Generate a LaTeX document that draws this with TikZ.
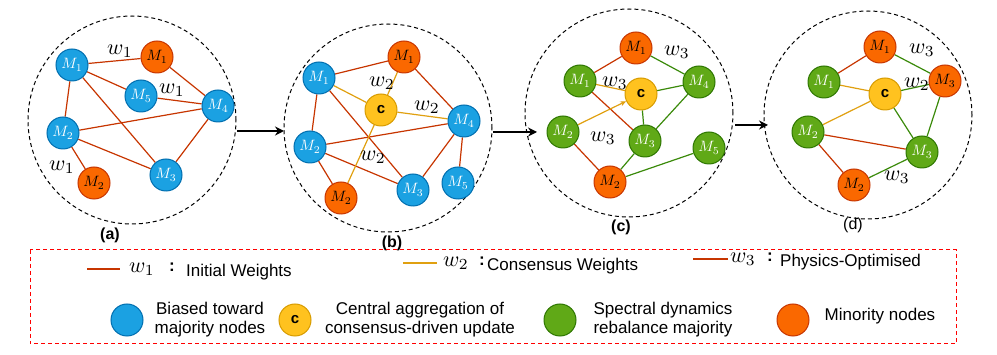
\documentclass[tikz,border=0pt]{standalone}
\usepackage{graphicx}
\usepackage{fontspec}
\setmainfont{Liberation Sans}
\usetikzlibrary{arrows.meta,backgrounds}
\definecolor{nblue}{HTML}{1BA1E2}
\definecolor{nblueD}{HTML}{006EAF}
\definecolor{norange}{HTML}{FA6800}
\definecolor{norangeD}{HTML}{C73500}
\definecolor{ngreen}{HTML}{60A917}
\definecolor{ngreenD}{HTML}{2D7600}
\definecolor{nyellow}{HTML}{FFC21F}
\definecolor{nyellowD}{HTML}{D79B00}
\definecolor{ered}{HTML}{C73500}
\definecolor{eyel}{HTML}{E0A010}
\definecolor{egreen}{HTML}{3A8A0A}
\newcommand\mlab[1]{\scalebox{1.5}{\normalsize$M_{#1}$}}
\newcommand\wlab[1]{\scalebox{2.2}{\normalsize$w_{#1}$}}
\tikzset{
  nd/.style={circle, minimum size=32pt, inner sep=0pt, line width=1pt},
  bn/.style={nd, fill=nblue, draw=nblueD, text=white},
  on/.style={nd, fill=norange, draw=norangeD, text=black},
  gn/.style={nd, fill=ngreen, draw=ngreenD, text=white},
  yn/.style={nd, fill=nyellow, draw=nyellowD, text=black, font=\fontsize{15}{17}\selectfont\bfseries},
  re/.style={draw=ered, line width=1.2pt},
  ye/.style={draw=eyel, line width=1.2pt},
  ge/.style={draw=egreen, line width=1.2pt},
  wl/.style={inner sep=0pt},
  pl/.style={font=\fontsize{16}{18}\selectfont\bfseries},
  ring/.style={circle, draw=black, dashed, line width=1pt, dash pattern=on 4pt off 3pt, minimum size=208pt, inner sep=0pt},
  arr/.style={line width=2.2pt, -{Stealth[length=9pt,width=9pt]}},
  lt/.style={align=center, font=\fontsize{17}{19}\selectfont, inner sep=0pt},
  colon/.style={font=\fontsize{17}{19}\selectfont\bfseries, inner sep=0pt},
  legbox/.style={draw=red, line width=1pt, dash pattern=on 4pt off 3pt}
}
\begin{document}
\begin{tikzpicture}[x=1pt,y=-1pt]
\useasboundingbox (0,0) rectangle (997,355);
% rings
\node[ring] (ca) at (132,120) {};
\node[ring] (cb) at (388,128) {};
\node[ring] (cc) at (629,113) {};
\node[ring] (cd) at (868,115) {};
% ---- (a)
\node[bn] (a1) at (72,65) {\mlab{1}};
\node[on] (a1o) at (157,57) {\mlab{1}};
\node[bn] (a5) at (141,96) {\mlab{5}};
\node[bn] (a4) at (218,106) {\mlab{4}};
\node[bn] (a2) at (63,133) {\mlab{2}};
\node[on] (a2o) at (94,183) {\mlab{2}};
\node[bn] (a3) at (166,175) {\mlab{3}};
\node[wl] (aw1) at (120,51) {\wlab{1}};
\node[wl] (aw2) at (172,90) {\wlab{1}};
\node[wl] (aw3) at (62,167) {\wlab{1}};
\node[pl] (la) at (110,235) {(a)};
% ---- (b)
\node[bn] (b1) at (319,78) {\mlab{1}};
\node[on] (b1o) at (404,57) {\mlab{1}};
\node[yn] (bc) at (381,110) {c};
\node[bn] (b4) at (464,121) {\mlab{4}};
\node[bn] (b2) at (310,147) {\mlab{2}};
\node[bn] (b3) at (413,190) {\mlab{3}};
\node[bn] (b5) at (458,183) {\mlab{5}};
\node[on] (b2o) at (341,198) {\mlab{2}};
\node[wl] (bw1) at (382,83) {\wlab{2}};
\node[wl] (bw2) at (427,107) {\wlab{2}};
\node[wl] (bw3) at (373,157) {\wlab{2}};
\node[pl] (lb) at (392,243) {(b)};
% ---- (c)
\node[on] (c1o) at (636,48) {\mlab{1}};
\node[gn] (c1) at (580,81) {\mlab{1}};
\node[yn] (cx) at (641,94) {c};
\node[gn] (c4) at (699,82) {\mlab{4}};
\node[gn] (c2) at (563,132) {\mlab{2}};
\node[gn] (c3) at (645,141) {\mlab{3}};
\node[gn] (c5) at (709,148) {\mlab{5}};
\node[on] (c2o) at (610,182) {\mlab{2}};
\node[wl] (cw1) at (677,52) {\wlab{3}};
\node[wl] (cw2) at (615,83) {\wlab{3}};
\node[wl] (cw3) at (603,138) {\wlab{3}};
\node[pl] (lc) at (621,227) {(c)};
% ---- (d)
\node[on] (d1o) at (880,47) {\mlab{1}};
\node[gn] (d1) at (824,82) {\mlab{1}};
\node[yn] (dx) at (885,94) {c};
\node[on] (d3o) at (945,81) {\mlab{3}};
\node[gn] (d2) at (808,132) {\mlab{2}};
\node[gn] (d3) at (922,152) {\mlab{3}};
\node[on] (d2o) at (854,185) {\mlab{2}};
\node[wl] (dw1) at (922,50) {\wlab{3}};
\node[wl] (dw2) at (917,84) {\wlab{2}};
\node[wl] (dw3) at (897,177) {\wlab{3}};
\node[font=\fontsize{16}{18}\selectfont] (ld) at (853,225) {(d)};
% arrows between panels
\coordinate (p1) at (237,131); \coordinate (p2) at (284,131);
\coordinate (p3) at (493,132); \coordinate (p4) at (537,132);
\coordinate (p5) at (735,125); \coordinate (p6) at (768,125);
\draw[arr] (p1) -- (p2);
\draw[arr] (p3) -- (p4);
\draw[arr] (p5) -- (p6);
% edges
\begin{scope}[on background layer]
\draw[re] (a1) -- (a1o);
\draw[re] (a1) -- (a5);
\draw[re] (a5) -- (a4);
\draw[re] (a1o) -- (a4);
\draw[re] (a1) -- (a2);
\draw[re] (a1) -- (a3);
\draw[re] (a2) -- (a4);
\draw[re] (a2) -- (a3);
\draw[re] (a3) -- (a4);
\draw[re] (a2) -- (a2o);
% b
\draw[re] (b1) -- (b1o);
\draw[re] (b1o) -- (b4);
\draw[re] (b1) -- (b2);
\draw[re] (b1) -- (b3);
\draw[re] (b2) -- (b4);
\draw[re] (b2) -- (b3);
\draw[re] (b3) -- (b4);
\draw[re] (b2) -- (b2o);
\draw[re] (b4) -- (b5);
\draw[ye] (bc) -- (b1);
\draw[ye] (bc) -- (b1o);
\draw[ye] (bc) -- (b4);
\draw[ye] (bc) -- (b2o);
% c
\draw[re] (c1o) -- (c1);
\draw[ge] (c1o) -- (c4);
\draw[ye] (c1) -- (cx);
\draw[re] (c1) -- (c3);
\draw[ge] (cx) -- (c4);
\draw[ge] (cx) -- (c3);
\draw[ye, -{Stealth[length=6pt,width=5pt]}] (c2) -- (cx);
\draw[ge] (c4) -- (c3);
\draw[re] (c2) -- (c2o);
\draw[ge] (c3) -- (c2o);
\draw[ge] (c2o) -- (c5);
% d
\draw[re] (d1o) -- (d1);
\draw[ge] (d1o) -- (d3o);
\draw[ye] (d1) -- (dx);
\draw[ge] (dx) -- (d3o);
\draw[ye] (dx) -- (d2);
\draw[ge] (dx) -- (d3);
\draw[ge] (d3o) -- (d3);
\draw[re] (d2) -- (d3);
\draw[re] (d2) -- (d2o);
\draw[ge] (d2o) -- (d3);
\end{scope}
% legend
\draw[legbox] (30,250) rectangle (956,344);
\coordinate (l1a) at (87,269); \coordinate (l1b) at (120,269);
\draw[re] (l1a) -- (l1b);
\node[wl, anchor=west] (lw1) at (129,269) {\wlab{1}};
\node[colon] (lc1) at (172,267) {:};
\node[lt, anchor=west] (lt1) at (186,272) {Initial Weights};
\coordinate (l2a) at (403,263); \coordinate (l2b) at (437,263);
\draw[ye] (l2a) -- (l2b);
\node[wl, anchor=west] (lw2) at (443,263) {\wlab{2}};
\node[colon] (lc2) at (482,261) {:};
\node[lt, anchor=west] (lt2) at (487,266) {Consensus Weights};
\coordinate (l3a) at (693,259); \coordinate (l3b) at (728,259);
\draw[re] (l3a) -- (l3b);
\node[wl, anchor=west] (lw3) at (730,259) {\wlab{3}};
\node[colon] (lc3) at (770,257) {:};
\node[lt, anchor=west] (lt3) at (780,262) {Physics-Optimised};
\node[bn] (lgb) at (127,320) {};
\node[lt] (ltb) at (210,320) {Biased toward\\majority nodes};
\node[yn] (lgc) at (295,320) {c};
\node[lt] (ltc) at (420,320) {Central aggregation of\\consensus-driven update};
\node[gn] (lgg) at (560,320) {};
\node[lt] (ltg) at (663,320) {Spectral dynamics\\rebalance majority};
\node[on] (lgo) at (793,320) {};
\node[lt] (lto) at (880,316) {Minority nodes};
\end{tikzpicture}
\end{document}
